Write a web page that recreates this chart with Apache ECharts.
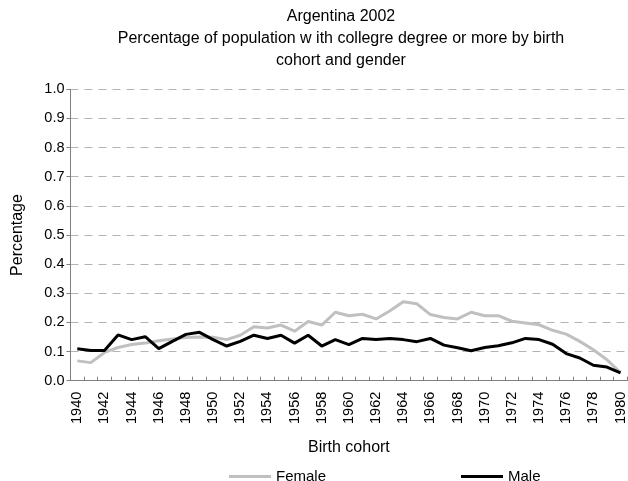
<!DOCTYPE html>
<html><head><meta charset="utf-8">
<script src="https://cdn.jsdelivr.net/npm/echarts@6/dist/echarts.min.js"></script>
<style>html,body{margin:0;padding:0;background:#fff}#c{width:628px;height:481px}</style>
</head><body><div id="c"></div>
<script>
const years = ["1940","1941","1942","1943","1944","1945","1946","1947","1948","1949","1950","1951","1952","1953","1954","1955","1956","1957","1958","1959","1960","1961","1962","1963","1964","1965","1966","1967","1968","1969","1970","1971","1972","1973","1974","1975","1976","1977","1978","1979","1980"];
const female = [0.068,0.062,0.097,0.114,0.124,0.129,0.137,0.143,0.148,0.150,0.149,0.141,0.156,0.185,0.181,0.191,0.170,0.203,0.191,0.235,0.223,0.228,0.212,0.239,0.271,0.264,0.227,0.217,0.212,0.235,0.223,0.223,0.204,0.198,0.192,0.173,0.160,0.135,0.106,0.072,0.028];
const male = [0.110,0.104,0.104,0.157,0.141,0.151,0.110,0.135,0.159,0.166,0.141,0.119,0.135,0.156,0.145,0.156,0.129,0.156,0.119,0.141,0.124,0.145,0.141,0.145,0.141,0.134,0.145,0.122,0.113,0.103,0.114,0.120,0.130,0.145,0.141,0.125,0.093,0.078,0.053,0.047,0.027];
const yTicks = [0,0.1,0.2,0.3,0.4,0.5,0.6,0.7,0.8,0.9,1.0];

const font = 'Liberation Sans, Arial, sans-serif';
const chart = echarts.init(document.getElementById('c'), null, {renderer:'canvas'});
chart.setOption({
  animation:false,
  textStyle:{fontFamily:font},
  title:{
    text:'Argentina 2002\nPercentage of population w ith collegre degree or more by birth\ncohort and gender',
    left:336, top:0, textAlign:'center',
    textStyle:{fontSize:16, fontWeight:'normal', color:'#000', lineHeight:22.3, fontFamily:font}
  },
  legend:{
    data:['Female','Male'], left:224, top:464, icon:'rect', itemWidth:42, itemHeight:3, itemGap:135,
    textStyle:{fontSize:15, color:'#000', fontFamily:font}
  },
  grid:{left:70.5, right:-1, top:89.3, bottom:100.3, containLabel:false},
  xAxis:{
    type:'category', data:years, boundaryGap:true,
    name:'Birth cohort', nameLocation:'middle', nameGap:59,
    nameTextStyle:{fontSize:16, color:'#000', fontFamily:font, verticalAlign:'top'},
    axisLine:{lineStyle:{color:'#808080', width:1}},
    axisTick:{show:true, inside:true, length:4, interval:0, lineStyle:{color:'#808080'}},
    axisLabel:{rotate:90, interval:1, fontSize:14.5, color:'#000', margin:11, fontFamily:font},
    splitLine:{show:false}
  },
  yAxis:{
    type:'value', min:yTicks[0], max:yTicks[yTicks.length-1], interval:0.1,
    name:'Percentage', nameLocation:'middle', nameGap:45, nameRotate:90,
    nameTextStyle:{fontSize:16, color:'#000', fontFamily:font},
    axisLine:{show:true, lineStyle:{color:'#808080', width:1}},
    axisTick:{show:true, length:4, lineStyle:{color:'#808080'}},
    axisLabel:{fontSize:14.5, color:'#000', margin:6, formatter:v=>v.toFixed(1), fontFamily:font},
    splitLine:{show:true, lineStyle:{color:'#b4b4b4', type:[8,6], width:1}}
  },
  series:[
    {name:'Female', type:'line', data:female, symbol:'none', lineStyle:{color:'#c0c0c0', width:3}, itemStyle:{color:'#c0c0c0'}},
    {name:'Male', type:'line', data:male, symbol:'none', lineStyle:{color:'#000', width:3}, itemStyle:{color:'#000'}}
  ]
});
</script></body></html>
